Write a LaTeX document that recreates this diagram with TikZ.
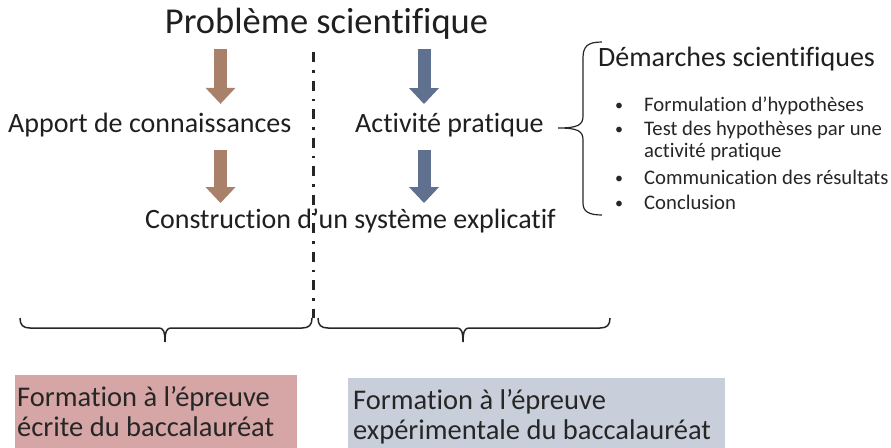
\documentclass[tikz,border=0pt]{standalone}
\usepackage{fontspec}
\setmainfont{Carlito}[Ligatures=CommonOff]
\usetikzlibrary{arrows.meta}

\definecolor{brun}{HTML}{A9806A}
\definecolor{bleu}{HTML}{60708F}
\definecolor{rose}{HTML}{D6A5A6}
\definecolor{gris}{HTML}{C8CFDB}

\begin{document}
\begin{tikzpicture}[x=1pt,y=1pt,
	txt/.style={inner sep=0pt,text=black!88,font=\fontsize{28}{30}\selectfont},
	liste/.style={inner sep=0pt,text=black!85,font=\fontsize{20.7}{24}\selectfont},
	boite/.style={anchor=north west,inner xsep=#1,inner ysep=11pt,align=flush left,text=black!85,font=\fontsize{28.5}{30}\selectfont},
	fleche/.style={line width=13pt,-{Triangle[width=29pt,length=16pt]}},
	acc/.style={line width=1.5pt,black!85}]
	\useasboundingbox (0,0) rectangle (891,-447);
	\node[txt,anchor=base,font=\fontsize{36.5}{40}\selectfont] (P) at (326.5,-33) {Problème scientifique};
	\node[txt,anchor=base west] (C) at (8,-132.5) {Apport de connaissances};
	\node[txt,anchor=base west] (A) at (355,-132.5) {Activité pratique};
	\node[txt,anchor=base west] (S) at (145,-228) {Construction d’un système explicatif};
	\node[txt,anchor=base west] (D) at (598,-66) {Démarches scientifiques};
	\coordinate (g) at (220.5,0);
	\coordinate (d) at (424,0);
	\draw[fleche,brun,shorten <=10pt,shorten >=9pt] (P.south -| g) -- (C.north -| g);
	\draw[fleche,bleu,shorten <=10pt,shorten >=9pt] (P.south -| d) -- (A.north -| d);
	\draw[fleche,brun,shorten <=13pt,shorten >=5pt] (C.south -| g) -- (S.north -| g);
	\draw[fleche,bleu,shorten <=13pt,shorten >=5pt] (A.south -| d) -- (S.north -| d);
	% demarches
	\draw[acc,line width=1.2pt] (602,-42) .. controls (588,-42) and (583,-46) .. (583,-58) -- (583,-116) .. controls (583,-125) and (578,-128) .. (558,-128) .. controls (578,-128) and (583,-131) .. (583,-140) -- (583,-203) .. controls (583,-211) and (588,-215) .. (602,-215);
	\foreach \y/\t in {111/Formulation d’hypothèses,135/Test des hypothèses par une,184/Communication des résultats,209/Conclusion} {
		\node[liste,anchor=base,font=\fontsize{16}{16}\selectfont] at (619,-\y+1) {•};
		\node[liste,anchor=base west] (l\y) at (644,-\y) {\t};
	}
	\node[liste,anchor=base west] (l157) at (644,-157) {activité pratique};
	% separation
	\draw[dash pattern=on 10pt off 8pt on 2.5pt off 8pt,line width=3pt,black!85] (313,-52) -- (313,-318);
	\foreach \a/\m/\b in {20/165/312,318/463/610}
		\draw[acc] (\a,-318) .. controls (\a,-325) and (\a+3,-328) .. (\a+10,-328) -- (\m-6,-328) .. controls (\m-2,-328) and (\m,-331) .. (\m,-342) .. controls (\m,-331) and (\m+2,-328) .. (\m+6,-328) -- (\b-10,-328) .. controls (\b-3,-328) and (\b,-325) .. (\b,-318);
	\node[boite=2pt,fill=rose,text width=278pt] (E) at (15,-375) {Formation à l’épreuve\\écrite du baccalauréat};
	\node[boite=5pt,fill=gris,text width=367pt] (X) at (348,-378) {Formation à l’épreuve\\expérimentale du baccalauréat};
\end{tikzpicture}
\end{document}
